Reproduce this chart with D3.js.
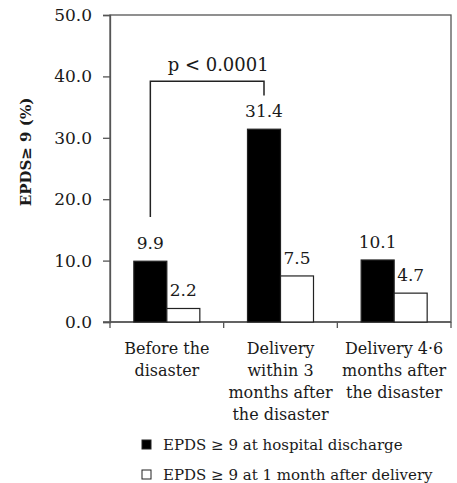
<!DOCTYPE html>
<html>
<head>
<meta charset="utf-8">
<script src="https://cdn.jsdelivr.net/npm/d3@7"></script>
<style>
  body { margin: 0; background: #fff; }
  svg text { font-family: "DejaVu Serif", "Liberation Serif", serif; fill: #1a1a1a; }
</style>
</head>
<body>
<div id="chart"></div>
<script>
// data
var categories = ["Before the disaster", "Delivery within 3 months after the disaster", "Delivery 4-6 months after the disaster"];
var catLines = [
  ["Before the", "disaster"],
  ["Delivery", "within 3", "months after", "the disaster"],
  ["Delivery 4\u00b76", "months after", "the disaster"]
];
var seriesNames = ["EPDS \u2265 9 at hospital discharge", "EPDS \u2265 9 at 1 month after delivery"];
var discharge = [9.9, 31.4, 10.1];
var oneMonth = [2.2, 7.5, 4.7];
var yTicks = [0, 10, 20, 30, 40, 50];
var pText = "p < 0.0001";

var w = 457, h = 483;
var mLeft = 110, mRight = 451, mTop = 15, mBottom = 322;

var svg = d3.select("#chart").append("svg").attr("width", w).attr("height", h);

var x = d3.scaleBand().domain(categories).range([mLeft, mRight]).padding(0);
var inner = d3.scaleBand().domain([0, 1]).range([0, 66]);
var y = d3.scaleLinear().domain([0, 50]).range([mBottom, mTop]);

// frame
svg.append("rect")
  .attr("x", mLeft).attr("y", mTop)
  .attr("width", mRight - mLeft).attr("height", mBottom - mTop)
  .attr("fill", "none").attr("stroke", "#555").attr("stroke-width", 1.3);

// y axis
var yAxis = d3.axisLeft(y).tickValues(yTicks).tickFormat(d3.format(".1f")).tickSize(7).tickPadding(11);
var gy = svg.append("g").attr("transform", "translate(" + mLeft + ",0)").call(yAxis);
gy.select(".domain").attr("stroke", "#555").attr("stroke-width", 1.3);
gy.selectAll(".tick line").attr("stroke", "#555").attr("stroke-width", 1.3);
gy.selectAll(".tick text").attr("font-size", "17px").attr("font-family", "DejaVu Serif").attr("fill", "#1a1a1a");

// x axis ticks at category boundaries
var bounds = categories.map(function(c) { return x(c); }).concat([mRight]);
svg.append("line").attr("x1", mLeft - 7).attr("x2", mRight).attr("y1", mBottom).attr("y2", mBottom)
  .attr("stroke", "#555").attr("stroke-width", 1.3);
svg.selectAll(".xt").data(bounds).enter().append("line")
  .attr("x1", function(d) { return d; }).attr("x2", function(d) { return d; })
  .attr("y1", mBottom).attr("y2", mBottom + 6)
  .attr("stroke", "#555").attr("stroke-width", 1.3);

// bars
var groupOff = (x.bandwidth() - 66) / 2;
var rows = [];
categories.forEach(function(c, i) {
  rows.push({cat: c, s: 0, v: discharge[i]});
  rows.push({cat: c, s: 1, v: oneMonth[i]});
});
svg.selectAll(".bar").data(rows).enter().append("rect")
  .attr("x", function(d) { return x(d.cat) + groupOff + inner(d.s); })
  .attr("y", function(d) { return y(d.v); })
  .attr("width", inner.bandwidth())
  .attr("height", function(d) { return y(0) - y(d.v); })
  .attr("fill", function(d) { return d.s === 0 ? "#000" : "#fff"; })
  .attr("stroke", "#222").attr("stroke-width", 1.2);

svg.selectAll(".val").data(rows).enter().append("text")
  .attr("x", function(d) { return x(d.cat) + groupOff + inner(d.s) + inner.bandwidth() / 2; })
  .attr("y", function(d) { return y(d.v) - 12; })
  .attr("text-anchor", "middle").attr("font-size", "17px")
  .text(function(d) { return d.v.toFixed(1); });

// significance bracket
var bx1 = x(categories[0]) + groupOff + inner.bandwidth() / 2;
var bx2 = x(categories[1]) + groupOff + inner.bandwidth() / 2;
svg.append("path")
  .attr("d", "M" + bx1 + "," + y(17.1) + "V" + y(39.2) + "H" + bx2 + "V" + y(36.9))
  .attr("fill", "none").attr("stroke", "#222").attr("stroke-width", 1.5);
svg.append("text").attr("x", (bx1 + bx2) / 2 + 11).attr("y", y(40.8))
  .attr("text-anchor", "middle").attr("font-size", "18px").text(pText);

// category labels
categories.forEach(function(c, i) {
  var t = svg.append("text").attr("text-anchor", "middle").attr("font-size", "16px")
    .attr("x", x(c) + x.bandwidth() / 2).attr("y", 354);
  catLines[i].forEach(function(line, j) {
    t.append("tspan").attr("x", x(c) + x.bandwidth() / 2).attr("dy", j === 0 ? 0 : 22).text(line);
  });
});

// y label
svg.append("text")
  .attr("transform", "translate(31," + 152 + ") rotate(-90)")
  .attr("text-anchor", "middle").attr("font-size", "15px").attr("font-weight", "bold")
  .text("EPDS\u2265 9  (%)");

// legend
seriesNames.forEach(function(s, i) {
  var ly = 440 + i * 30;
  svg.append("rect").attr("x", 142).attr("y", ly).attr("width", 9).attr("height", 9)
    .attr("fill", i === 0 ? "#000" : "#fff").attr("stroke", "#222").attr("stroke-width", 1);
  svg.append("text").attr("x", 163).attr("y", ly + 10).attr("font-size", "15px").text(s);
});
</script>
</body>
</html>
